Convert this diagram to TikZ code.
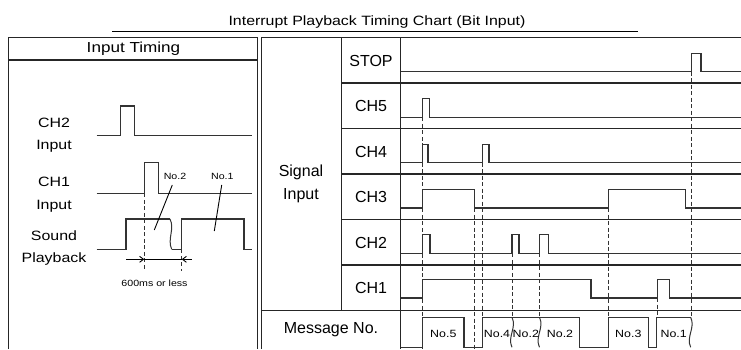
\documentclass[tikz,border=0pt]{standalone}
\usepackage{fontspec}
\setmainfont{Liberation Sans}
\newfontfamily\gothic[FakeStretch=1.18]{Liberation Sans}
\usetikzlibrary{arrows.meta}
\tikzset{
  frame/.style={line width=1.1pt, black!85},
  sig/.style={line width=1.15pt, black!80, line join=miter},
  guide/.style={line width=0.9pt, black!80, dash pattern=on 4pt off 2.5pt},
  lab/.style={font=\fontsize{16}{22.5}\selectfont, inner sep=0pt, align=center},
  glab/.style={font=\gothic\fontsize{13.5}{22.5}\selectfont, inner sep=0pt, align=center},
  small/.style={font=\gothic\fontsize{9}{11}\selectfont, inner sep=0pt},
  msg/.style={font=\gothic\fontsize{10.5}{12}\selectfont, inner sep=0pt},
  wavy/.style={line width=1pt, black!80},
}
\newcommand{\wav}[3]{\draw[wavy] (#1,#2) .. controls (#1+5,#2+0.35*#3-#2*0.35) and (#1-5,#2+0.65*#3-#2*0.65) .. (#1,#3);}
\begin{document}
\begin{tikzpicture}[x=1pt,y=-1pt]
\useasboundingbox (0,0) rectangle (741,349);
% title
\node[glab, font=\gothic\fontsize{13.5}{15}\selectfont] (title) at (377,22) {Interrupt Playback Timing Chart (Bit Input)};
\draw[line width=1pt] (112,31.7) -- (638,31.7);
% ---------- frames
\draw[frame] (8.3,349) -- (8.3,37.5) -- (257.3,37.5) -- (257.3,349);
\draw[frame] (8.3,60) -- (257.3,60);
\draw[frame] (261.3,349) -- (261.3,37.5) -- (741,37.5);
\draw[frame] (341.7,37.5) -- (341.7,310.5);
\draw[frame] (400.7,37.5) -- (400.7,349);
\foreach \yy in {83,128.5,174,219.5,265} \draw[frame] (341.7,\yy) -- (741,\yy);
\draw[frame] (261.3,310.5) -- (741,310.5);
% ---------- left panel
\node[glab, font=\gothic\fontsize{14.5}{16}\selectfont] (it) at (133.5,49) {Input Timing};
\node[glab] (l2) at (54,135) {CH2\\Input};
\node[glab] (l1) at (54,194.5) {CH1\\Input};
\node[glab] (ls) at (54,248) {Sound\\Playback};
\draw[sig] (96.7,135.7) -- (120.7,135.7) -- (120.7,106) -- (134.3,106) -- (134.3,135.7) -- (252.3,135.7);
\draw[sig] (96.7,193.3) -- (144.3,193.3) -- (144.3,162.3) -- (158.3,162.3) -- (158.3,193.3) -- (252.3,193.3);
\draw[sig] (96.7,249.3) -- (126,249.3) -- (126,219) -- (170,219);
\draw[wavy] (170,219) .. controls (175,229) and (167,239) .. (171.7,249.3);
\draw[sig] (171.7,249.3) -- (181.7,249.3) -- (181.7,219) -- (244,219) -- (244,249.3) -- (252.3,249.3);
\draw[guide] (144.3,193.3) -- (144.3,271);
\draw[guide] (181.7,249.3) -- (181.7,271);
\coordinate (da) at (126,259.3);
\coordinate (db) at (144.3,259.3);
\coordinate (dc) at (181.7,259.3);
\coordinate (dd) at (191.7,259.3);
\draw[line width=0.9pt, -{Straight Barb[length=4pt,width=6pt]}] (da) -- (db);
\draw[line width=0.9pt] (db) -- (dc);
\draw[line width=0.9pt, -{Straight Barb[length=4pt,width=6pt]}] (dd) -- (dc);
\node[small] (ms) at (154.5,283.5) {600ms or less};
\node[small] (n2) at (175,176) {No.2};
\node[small] (n1) at (222.3,176) {No.1};
\draw[line width=0.9pt] (172.3,185) -- (154.3,230);
\draw[line width=0.9pt] (221.7,185) -- (214.3,231);
% ---------- right labels
\node[lab] (si) at (301,184) {Signal\\Input};
\node[lab] (stop) at (371,60.5) {STOP};
\node[lab] (c5) at (371,106) {CH5};
\node[lab] (c4) at (371,151.5) {CH4};
\node[lab] (c3) at (371,197) {CH3};
\node[lab] (c2) at (371,242.5) {CH2};
\node[lab] (c1) at (371,288) {CH1};
\node[lab] (mn) at (331,330) {Message No.};
% ---------- signals
\draw[sig] (400.7,71.7) -- (691.3,71.7) -- (691.3,53.3) -- (701,53.3) -- (701,71.7) -- (741,71.7);
\draw[sig] (400.7,117.3) -- (422.7,117.3) -- (422.7,98.9) -- (429.3,98.9) -- (429.3,117.3) -- (741,117.3);
\draw[sig] (400.7,162.7) -- (422.7,162.7) -- (422.7,144.3) -- (428,144.3) -- (428,162.7) -- (482.5,162.7) -- (482.5,144.3) -- (489,144.3) -- (489,162.7) -- (741,162.7);
\draw[sig] (400.7,208) -- (422.7,208) -- (422.7,189.3) -- (474.3,189.3) -- (474.3,208) -- (608.3,208) -- (608.3,189.3) -- (685.7,189.3) -- (685.7,208) -- (741,208);
\draw[sig] (400.7,253.3) -- (422.7,253.3) -- (422.7,234.7) -- (430,234.7) -- (430,253.3) -- (512,253.3) -- (512,234.7) -- (519,234.7) -- (519,253.3) -- (539.5,253.3) -- (539.5,234.7) -- (548.3,234.7) -- (548.3,253.3) -- (741,253.3);
\draw[sig] (400.7,298) -- (422.7,298) -- (422.7,279.5) -- (591,279.5) -- (591,298) -- (657.5,298) -- (657.5,279.5) -- (669.3,279.5) -- (669.3,298) -- (741,298);
% message row
\draw[sig] (400.7,347.3) -- (422.7,347.3) -- (422.7,317.3) -- (464,317.3) -- (464,347.3) -- (482.5,347.3) -- (482.5,317.3) -- (579.3,317.3) -- (579.3,347.3) -- (608.3,347.3) -- (608.3,317.3) -- (648.3,317.3) -- (648.3,347.3) -- (656.7,347.3) -- (656.7,317.3) -- (690.7,317.3);
\wav{512}{317.3}{347.3}
\wav{539.5}{317.3}{347.3}
\wav{690.7}{317.3}{347.3}
\node[msg] (m5) at (443.3,334) {No.5};
\node[msg] (m4) at (497,334) {No.4};
\node[msg] (m2a) at (525.8,334) {No.2};
\node[msg] (m2b) at (560,334) {No.2};
\node[msg] (m3) at (628.3,334) {No.3};
\node[msg] (m1) at (673.7,334) {No.1};
% guides
\draw[guide] (422.7,117.3) -- (422.7,349);
\draw[guide] (474.3,208) -- (474.3,349);
\draw[guide] (482.5,162.7) -- (482.5,317.3);
\draw[guide] (512,253.3) -- (512,317.3);
\draw[guide] (539.5,253.3) -- (539.5,317.3);
\draw[guide] (608.3,208) -- (608.3,317.3);
\draw[guide] (657.5,298) -- (657.5,317.3);
\draw[guide] (691.3,71.7) -- (691.3,317.3);
\end{tikzpicture}
\end{document}
